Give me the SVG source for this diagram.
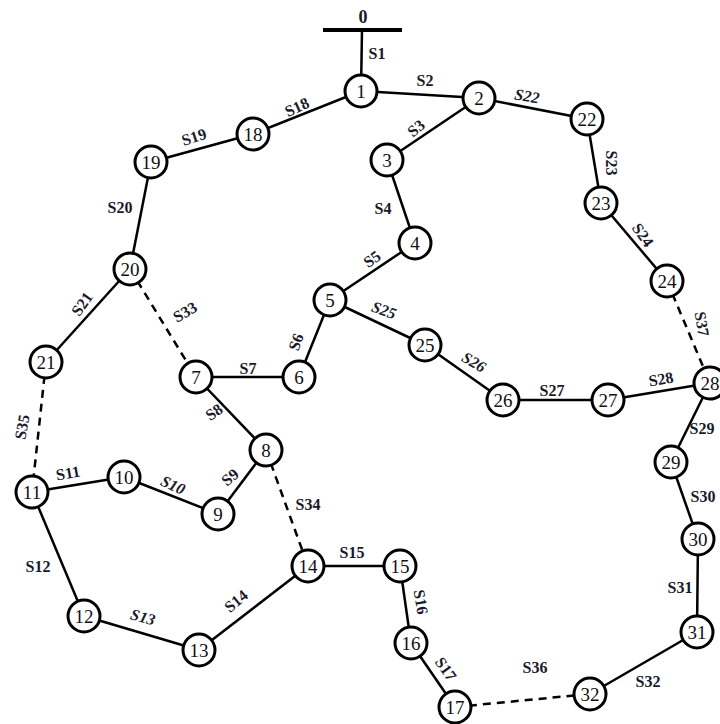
<svg xmlns="http://www.w3.org/2000/svg" width="720" height="724" viewBox="0 0 720 724">
<style>
.e{stroke:#000;stroke-width:2.5;fill:none}
.d{stroke:#000;stroke-width:2.5;fill:none;stroke-dasharray:8 6}
.n circle{fill:#fff;stroke:#000;stroke-width:3}
.n text{font-family:"Liberation Serif","Times New Roman",serif;font-size:19px;fill:#111;text-anchor:middle;dominant-baseline:central}
.l{font-family:"Liberation Serif","Times New Roman",serif;font-size:16px;font-weight:bold;fill:#1a1a2a;text-anchor:middle;dominant-baseline:central}
.i{font-style:italic}
</style>
<rect width="720" height="724" fill="#fff"/>
<g id="connectors">
<line class="e" x1="323" y1="30" x2="402" y2="30" style="stroke-width:4"/>
<line class="e" x1="362" y1="30" x2="361" y2="91"/>
<line class="e" x1="361" y1="91" x2="479" y2="98"/>
<line class="e" x1="479" y1="98" x2="387" y2="160"/>
<line class="e" x1="387" y1="160" x2="415" y2="243"/>
<line class="e" x1="415" y1="243" x2="330" y2="300"/>
<line class="e" x1="330" y1="300" x2="299" y2="377"/>
<line class="e" x1="299" y1="377" x2="196" y2="377"/>
<line class="e" x1="196" y1="377" x2="266" y2="450"/>
<line class="e" x1="266" y1="450" x2="218" y2="514"/>
<line class="e" x1="218" y1="514" x2="124" y2="477"/>
<line class="e" x1="124" y1="477" x2="32" y2="492"/>
<line class="e" x1="32" y1="492" x2="84" y2="616"/>
<line class="e" x1="84" y1="616" x2="199" y2="650"/>
<line class="e" x1="199" y1="650" x2="308" y2="566"/>
<line class="e" x1="308" y1="566" x2="400" y2="566"/>
<line class="e" x1="400" y1="566" x2="411" y2="643"/>
<line class="e" x1="411" y1="643" x2="455" y2="707"/>
<line class="e" x1="361" y1="91" x2="253" y2="134"/>
<line class="e" x1="253" y1="134" x2="151" y2="162"/>
<line class="e" x1="151" y1="162" x2="130" y2="269"/>
<line class="e" x1="130" y1="269" x2="46" y2="362"/>
<line class="e" x1="479" y1="98" x2="587" y2="119"/>
<line class="e" x1="587" y1="119" x2="601" y2="203"/>
<line class="e" x1="601" y1="203" x2="667" y2="281"/>
<line class="e" x1="330" y1="300" x2="425" y2="345"/>
<line class="e" x1="425" y1="345" x2="503" y2="400"/>
<line class="e" x1="503" y1="400" x2="608" y2="400"/>
<line class="e" x1="608" y1="400" x2="710" y2="383"/>
<line class="e" x1="710" y1="383" x2="671" y2="462"/>
<line class="e" x1="671" y1="462" x2="698" y2="539"/>
<line class="e" x1="698" y1="539" x2="697" y2="632"/>
<line class="e" x1="697" y1="632" x2="590" y2="694"/>
<line class="d" x1="130" y1="269" x2="196" y2="377"/>
<line class="d" x1="266" y1="450" x2="308" y2="566"/>
<line class="d" x1="46" y1="362" x2="32" y2="492"/>
<line class="d" x1="455" y1="707" x2="590" y2="694"/>
<line class="d" x1="667" y1="281" x2="710" y2="383"/>
</g>
<g id="labels">
<text class="l" x="363" y="17" style="font-size:18px">0</text>
<text class="l" x="377" y="53">S1</text>
<text class="l" x="425" y="80">S2</text>
<text class="l" x="416" y="128" transform="rotate(-40 416 128)">S3</text>
<text class="l" x="383" y="208">S4</text>
<text class="l" x="372" y="259" transform="rotate(-35 372 259)">S5</text>
<text class="l" x="296" y="342" transform="rotate(-70 296 342)">S6</text>
<text class="l" x="248" y="368">S7</text>
<text class="l" x="214" y="412" transform="rotate(-35 214 412)">S8</text>
<text class="l" x="230" y="477" transform="rotate(-40 230 477)">S9</text>
<text class="l i" x="173" y="485" transform="rotate(25 173 485)">S10</text>
<text class="l" x="68" y="473" transform="rotate(-10 68 473)">S11</text>
<text class="l" x="38" y="566">S12</text>
<text class="l i" x="143" y="617" transform="rotate(15 143 617)">S13</text>
<text class="l" x="236" y="601" transform="rotate(-40 236 601)">S14</text>
<text class="l" x="352" y="552">S15</text>
<text class="l" x="421" y="602" transform="rotate(80 421 602)">S16</text>
<text class="l" x="446" y="669" transform="rotate(55 446 669)">S17</text>
<text class="l" x="297" y="107" transform="rotate(-25 297 107)">S18</text>
<text class="l" x="194" y="137" transform="rotate(-18 194 137)">S19</text>
<text class="l" x="120" y="207">S20</text>
<text class="l" x="82" y="304" transform="rotate(-55 82 304)">S21</text>
<text class="l i" x="527" y="96" transform="rotate(10 527 96)">S22</text>
<text class="l" x="611" y="163" transform="rotate(90 611 163)">S23</text>
<text class="l" x="643" y="235" transform="rotate(55 643 235)">S24</text>
<text class="l i" x="384" y="310" transform="rotate(20 384 310)">S25</text>
<text class="l i" x="474" y="362" transform="rotate(30 474 362)">S26</text>
<text class="l" x="552" y="390">S27</text>
<text class="l" x="661" y="379" transform="rotate(-10 661 379)">S28</text>
<text class="l" x="702" y="428">S29</text>
<text class="l" x="703" y="496">S30</text>
<text class="l" x="680" y="587">S31</text>
<text class="l" x="648" y="681">S32</text>
<text class="l" x="185" y="312" transform="rotate(-30 185 312)">S33</text>
<text class="l" x="308" y="504">S34</text>
<text class="l" x="22" y="427" transform="rotate(-80 22 427)">S35</text>
<text class="l" x="535" y="667">S36</text>
<text class="l" x="702" y="324" transform="rotate(80 702 324)">S37</text>
</g>
<g id="n1" class="n"><circle cx="361" cy="91" r="16"/><text x="361" y="91">1</text></g>
<g id="n2" class="n"><circle cx="479" cy="98" r="16"/><text x="479" y="98">2</text></g>
<g id="n3" class="n"><circle cx="387" cy="160" r="16"/><text x="387" y="160">3</text></g>
<g id="n4" class="n"><circle cx="415" cy="243" r="16"/><text x="415" y="243">4</text></g>
<g id="n5" class="n"><circle cx="330" cy="300" r="16"/><text x="330" y="300">5</text></g>
<g id="n6" class="n"><circle cx="299" cy="377" r="16"/><text x="299" y="377">6</text></g>
<g id="n7" class="n"><circle cx="196" cy="377" r="16"/><text x="196" y="377">7</text></g>
<g id="n8" class="n"><circle cx="266" cy="450" r="16"/><text x="266" y="450">8</text></g>
<g id="n9" class="n"><circle cx="218" cy="514" r="16"/><text x="218" y="514">9</text></g>
<g id="n10" class="n"><circle cx="124" cy="477" r="16"/><text x="124" y="477">10</text></g>
<g id="n11" class="n"><circle cx="32" cy="492" r="16"/><text x="32" y="492">11</text></g>
<g id="n12" class="n"><circle cx="84" cy="616" r="16"/><text x="84" y="616">12</text></g>
<g id="n13" class="n"><circle cx="199" cy="650" r="16"/><text x="199" y="650">13</text></g>
<g id="n14" class="n"><circle cx="308" cy="566" r="16"/><text x="308" y="566">14</text></g>
<g id="n15" class="n"><circle cx="400" cy="566" r="16"/><text x="400" y="566">15</text></g>
<g id="n16" class="n"><circle cx="411" cy="643" r="16"/><text x="411" y="643">16</text></g>
<g id="n17" class="n"><circle cx="455" cy="707" r="16"/><text x="455" y="707">17</text></g>
<g id="n18" class="n"><circle cx="253" cy="134" r="16"/><text x="253" y="134">18</text></g>
<g id="n19" class="n"><circle cx="151" cy="162" r="16"/><text x="151" y="162">19</text></g>
<g id="n20" class="n"><circle cx="130" cy="269" r="16"/><text x="130" y="269">20</text></g>
<g id="n21" class="n"><circle cx="46" cy="362" r="16"/><text x="46" y="362">21</text></g>
<g id="n22" class="n"><circle cx="587" cy="119" r="16"/><text x="587" y="119">22</text></g>
<g id="n23" class="n"><circle cx="601" cy="203" r="16"/><text x="601" y="203">23</text></g>
<g id="n24" class="n"><circle cx="667" cy="281" r="16"/><text x="667" y="281">24</text></g>
<g id="n25" class="n"><circle cx="425" cy="345" r="16"/><text x="425" y="345">25</text></g>
<g id="n26" class="n"><circle cx="503" cy="400" r="16"/><text x="503" y="400">26</text></g>
<g id="n27" class="n"><circle cx="608" cy="400" r="16"/><text x="608" y="400">27</text></g>
<g id="n28" class="n"><circle cx="710" cy="383" r="16"/><text x="710" y="383">28</text></g>
<g id="n29" class="n"><circle cx="671" cy="462" r="16"/><text x="671" y="462">29</text></g>
<g id="n30" class="n"><circle cx="698" cy="539" r="16"/><text x="698" y="539">30</text></g>
<g id="n31" class="n"><circle cx="697" cy="632" r="16"/><text x="697" y="632">31</text></g>
<g id="n32" class="n"><circle cx="590" cy="694" r="16"/><text x="590" y="694">32</text></g>
</svg>
